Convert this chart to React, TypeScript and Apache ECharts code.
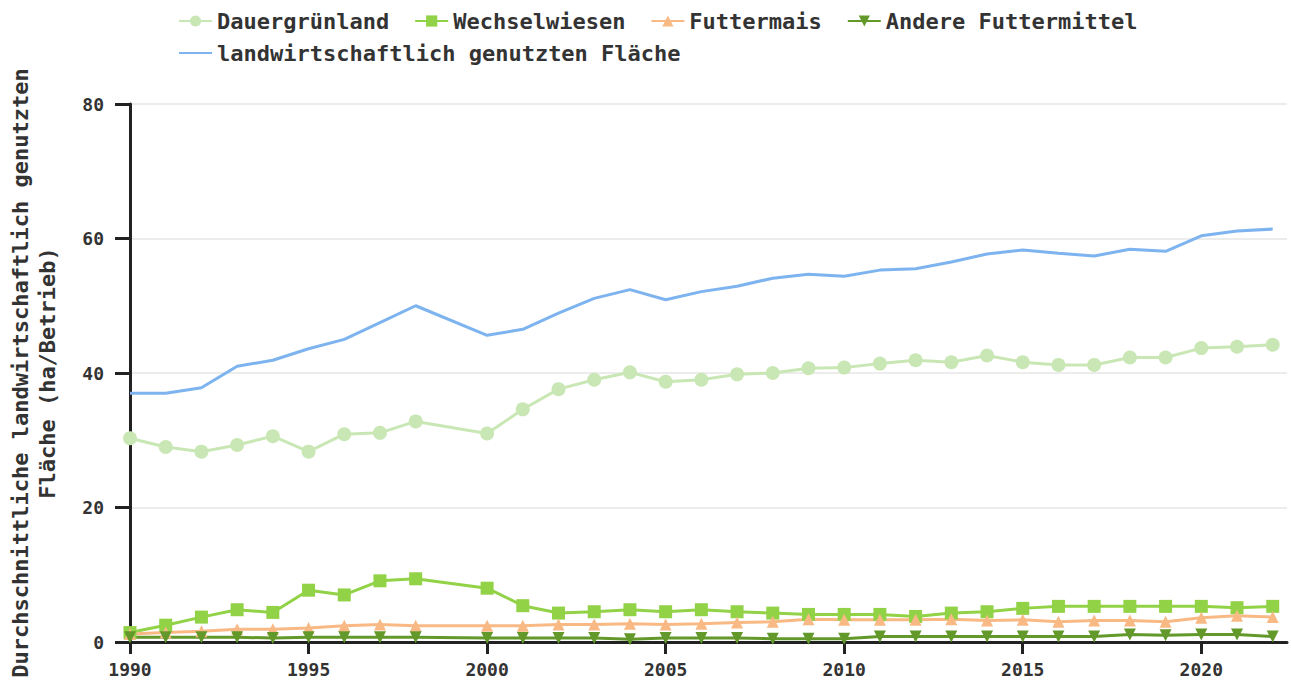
import React, { useEffect, useRef } from "react";
import * as echarts from "echarts";

const years = [1990, 1991, 1992, 1993, 1994, 1995, 1996, 1997, 1998, 2000, 2001, 2002, 2003, 2004, 2005, 2006, 2007, 2008, 2009, 2010, 2011, 2012, 2013, 2014, 2015, 2016, 2017, 2018, 2019, 2020, 2021, 2022];
const dauergruenland = [30.3, 29.0, 28.3, 29.3, 30.6, 28.3, 30.9, 31.1, 32.8, 31.0, 34.6, 37.6, 39.0, 40.1, 38.7, 39.0, 39.8, 40.0, 40.7, 40.8, 41.4, 41.9, 41.6, 42.6, 41.6, 41.2, 41.2, 42.3, 42.3, 43.7, 43.9, 44.2];
const wechselwiesen = [1.4, 2.5, 3.7, 4.8, 4.4, 7.7, 7.0, 9.1, 9.4, 8.0, 5.4, 4.3, 4.5, 4.8, 4.5, 4.8, 4.5, 4.3, 4.1, 4.1, 4.1, 3.8, 4.3, 4.5, 5.0, 5.3, 5.3, 5.3, 5.3, 5.3, 5.1, 5.3];
const futtermais = [1.2, 1.4, 1.6, 1.9, 1.9, 2.1, 2.4, 2.6, 2.4, 2.4, 2.4, 2.6, 2.6, 2.7, 2.6, 2.7, 2.9, 3.0, 3.4, 3.3, 3.3, 3.3, 3.4, 3.2, 3.3, 3.0, 3.2, 3.2, 3.0, 3.6, 3.9, 3.7];
const andereFuttermittel = [0.7, 0.7, 0.7, 0.7, 0.6, 0.7, 0.7, 0.7, 0.7, 0.6, 0.6, 0.6, 0.6, 0.4, 0.6, 0.6, 0.6, 0.5, 0.5, 0.5, 0.8, 0.8, 0.8, 0.8, 0.8, 0.8, 0.8, 1.1, 1.0, 1.1, 1.1, 0.8];
const landwFlaeche = [37.0, 37.0, 37.8, 41.0, 41.9, 43.6, 45.0, 47.5, 50.0, 45.6, 46.5, 48.9, 51.1, 52.4, 50.9, 52.1, 52.9, 54.1, 54.7, 54.4, 55.3, 55.5, 56.5, 57.7, 58.3, 57.8, 57.4, 58.4, 58.1, 60.4, 61.1, 61.4];
const xTicks = [1990, 1995, 2000, 2005, 2010, 2015, 2020];
const yTicks = [0, 20, 40, 60, 80];

const FONT = "'DejaVu Sans Mono', monospace";

export default function App() {
  const ref = useRef<HTMLDivElement>(null);
  useEffect(() => {
    const chart = echarts.init(ref.current!, null, { renderer: "svg" });
    const pair = (vals: number[]) => years.map((y, i) => [y, vals[i]]);
    const legendText = { fontFamily: FONT, fontWeight: "bold" as const, fontSize: 22, color: "#333" };
    chart.setOption({
      animation: false,
      legend: [
        {
          left: 173,
          top: 5,
          itemWidth: 33,
          itemHeight: 14,
          itemGap: 25,
          textStyle: legendText,
          data: ["Dauergrünland", "Wechselwiesen", "Futtermais", "Andere Futtermittel"],
        },
        {
          left: 173,
          top: 37,
          itemWidth: 33,
          itemHeight: 14,
          itemGap: 25,
          textStyle: legendText,
          data: [{ name: "landwirtschaftlich genutzten Fläche", itemStyle: { opacity: 0 } }],
        },
      ],
      grid: { left: 130, right: 4, top: 104, bottom: 38, containLabel: false, outerBoundsMode: "none" },
      xAxis: {
        type: "value",
        min: 1990,
        max: 2022.4,
        axisLine: { show: true, lineStyle: { color: "#222", width: 3 } },
        axisTick: { show: true, length: 12, lineStyle: { color: "#222", width: 3 }, customValues: xTicks },
        axisLabel: {
          customValues: xTicks,
          formatter: (v: number) => String(v),
          fontFamily: FONT,
          fontWeight: "bold",
          fontSize: 18,
          color: "#333",
          margin: 18,
        },
        splitLine: { show: false },
      },
      yAxis: {
        type: "value",
        min: 0,
        max: 80,
        interval: 20,
        name: "Durchschnittliche landwirtschaftlich genutzten\nFläche (ha/Betrieb)",
        nameLocation: "middle",
        nameGap: 69,
        nameTextStyle: { fontFamily: FONT, fontWeight: "bold", fontSize: 22, color: "#333", lineHeight: 27 },
        axisLine: { show: true, lineStyle: { color: "#222", width: 3 } },
        axisTick: { show: true, length: 15, lineStyle: { color: "#222", width: 3 } },
        axisLabel: {
          fontFamily: FONT,
          fontWeight: "bold",
          fontSize: 18,
          color: "#333",
          margin: 26,
          customValues: yTicks,
        },
        splitLine: { show: true, lineStyle: { color: "#e6e6e6", width: 1.5 } },
      },
      series: [
        {
          name: "Dauergrünland",
          type: "line",
          data: pair(dauergruenland),
          symbol: "circle",
          symbolSize: 14,
          itemStyle: { color: "#c9e7b5" },
          lineStyle: { color: "#c9e7b5", width: 3 },
        },
        {
          name: "Wechselwiesen",
          type: "line",
          data: pair(wechselwiesen),
          symbol: "rect",
          symbolSize: 13,
          itemStyle: { color: "#92d246" },
          lineStyle: { color: "#92d246", width: 3 },
        },
        {
          name: "Futtermais",
          type: "line",
          data: pair(futtermais),
          symbol: "triangle",
          symbolSize: 12,
          itemStyle: { color: "#f8b985" },
          lineStyle: { color: "#f8b985", width: 3 },
        },
        {
          name: "Andere Futtermittel",
          type: "line",
          data: pair(andereFuttermittel),
          symbol: "triangle",
          symbolRotate: 180,
          symbolSize: 12,
          itemStyle: { color: "#62992a" },
          lineStyle: { color: "#62992a", width: 3 },
        },
        {
          name: "landwirtschaftlich genutzten Fläche",
          type: "line",
          data: pair(landwFlaeche),
          symbol: "none",
          itemStyle: { color: "#7db3ee" },
          lineStyle: { color: "#7db3ee", width: 3 },
        },
      ],
    });
    return () => chart.dispose();
  }, []);
  return <div ref={ref} style={{ width: 1291, height: 680, position: "absolute", left: 0, top: 0 }} />;
}
